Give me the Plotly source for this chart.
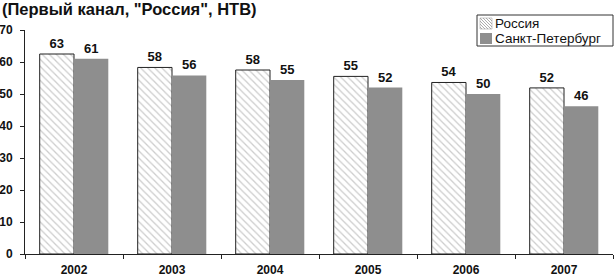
import plotly.graph_objects as go

years = ["2002", "2003", "2004", "2005", "2006", "2007"]
russia = [62.5, 58.3, 57.5, 55.5, 53.6, 51.9]
spb = [61.0, 55.8, 54.4, 52.0, 50.0, 46.2]
russia_labels = ["63", "58", "58", "55", "54", "52"]
spb_labels = ["61", "56", "55", "52", "50", "46"]
y_ticks = [0, 10, 20, 30, 40, 50, 60, 70]
series_names = ["Россия", "Санкт-Петербург"]
title = '(Первый канал, "Россия", НТВ)'

FONT = "Liberation Sans"
W, H = 616, 278
ML, MR, MT, MB = 25, 3, 30, 24
PW, PH = W - ML - MR, H - MT - MB


def px(x):
    return (x - ML) / PW


def py(y):
    return (H - MB - y) / PH


fig = go.Figure()
fig.add_trace(go.Bar(
    x=years, y=russia, name=series_names[0],
    text=["<b>" + t + "</b>" for t in russia_labels],
    textposition="outside", cliponaxis=False,
    textfont=dict(family=FONT, size=13, color="#111"),
    marker=dict(color="white", line=dict(color="#222", width=1),
                pattern=dict(shape="\\", fgcolor="#9a9a9a", bgcolor="white",
                             size=5, solidity=0.25)),
))
fig.add_trace(go.Bar(
    x=years, y=spb, name=series_names[1],
    text=["<b>" + t + "</b>" for t in spb_labels],
    textposition="outside", cliponaxis=False,
    textfont=dict(family=FONT, size=13, color="#111"),
    marker=dict(color="#8e8e8e", line=dict(color="#8e8e8e", width=0)),
))

# custom compact legend
shapes = []
shapes.append(dict(type="rect", xref="paper", yref="paper",
                   x0=px(477), x1=px(613), y0=py(46), y1=py(15),
                   line=dict(color="#333", width=1), fillcolor="white", layer="above"))
# Russia swatch (hatched)
sx0, sx1, sy0, sy1 = 480, 492, 18, 29
shapes.append(dict(type="rect", xref="paper", yref="paper",
                   x0=px(sx0), x1=px(sx1), y0=py(sy1), y1=py(sy0),
                   line=dict(color="#aaa", width=0.6), fillcolor="white", layer="above"))
for k in range(-9, 12, 3):
    ax0, ay0 = sx0 + k, sy0
    ax1, ay1 = sx0 + k + (sy1 - sy0), sy1
    if ax0 < sx0:
        ay0 += sx0 - ax0
        ax0 = sx0
    if ax1 > sx1:
        ay1 -= ax1 - sx1
        ax1 = sx1
    if ax1 <= ax0:
        continue
    shapes.append(dict(type="line", xref="paper", yref="paper",
                       x0=px(ax0), y0=py(ay0), x1=px(ax1), y1=py(ay1),
                       line=dict(color="#999", width=0.8), layer="above"))
# SPb swatch
shapes.append(dict(type="rect", xref="paper", yref="paper",
                   x0=px(480), x1=px(492), y0=py(44), y1=py(33),
                   line=dict(width=0), fillcolor="#8e8e8e", layer="above"))

annotations = [
    dict(text="<b>" + title + "</b>", x=px(0), y=py(9.5),
         xref="paper", yref="paper", xanchor="left", yanchor="middle",
         showarrow=False, font=dict(family=FONT, size=16.5, color="#111")),
    dict(text=series_names[0], x=px(494), y=py(23.5), xref="paper", yref="paper",
         xanchor="left", yanchor="middle", showarrow=False, borderpad=0,
         font=dict(family=FONT, size=13.5, color="#111")),
    dict(text=series_names[1], x=px(494), y=py(39), xref="paper", yref="paper",
         xanchor="left", yanchor="middle", showarrow=False, borderpad=0,
         font=dict(family=FONT, size=13.5, color="#111")),
]

fig.update_layout(
    width=W, height=H,
    margin=dict(l=ML, r=MR, t=MT, b=MB, autoexpand=False),
    paper_bgcolor="white", plot_bgcolor="white",
    barmode="group", bargap=0.3, bargroupgap=0,
    font=dict(family=FONT, size=12, color="#111"),
    showlegend=False,
    shapes=shapes,
    annotations=annotations,
)
fig.update_xaxes(
    type="category", showline=True, linecolor="#222", linewidth=1,
    ticks="outside", tickson="boundaries", ticklen=4, tickcolor="#222",
    tickfont=dict(family=FONT, size=12, color="#111"),
    tickvals=years, ticktext=["<b>" + y + "</b>" for y in years],
    ticklabelstandoff=5,
    showgrid=False, automargin=False,
)
fig.update_yaxes(
    range=[0, 70], tickvals=y_ticks,
    ticktext=["<b>" + str(v) + "</b>" for v in y_ticks],
    showline=True, linecolor="#222", linewidth=1,
    ticks="outside", ticklen=4, tickcolor="#222",
    tickfont=dict(family=FONT, size=12, color="#111"),
    ticklabelstandoff=5,
    showgrid=False, zeroline=False, automargin=False,
)

fig.write_html("out.html", config={"displayModeBar": False},
               post_script="document.body.style.margin='0';document.body.style.overflow='hidden';")
